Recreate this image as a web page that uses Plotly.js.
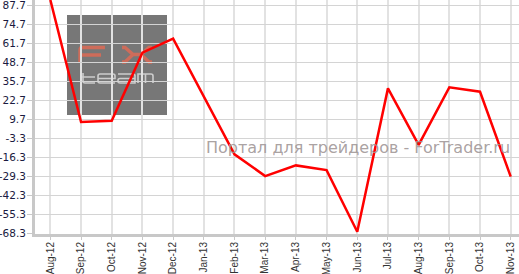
<!DOCTYPE html>
<html>
<head>
<meta charset="utf-8">
<script src="https://cdn.plot.ly/plotly-3.0.1.min.js"></script>
<style>html,body{margin:0;padding:0;background:#fff;}#chart{width:519px;height:274px;}</style>
</head>
<body>
<div id="chart"></div>
<script>
const months = ["Aug-12","Sep-12","Oct-12","Nov-12","Dec-12","Jan-13","Feb-13","Mar-13","Apr-13","May-13","Jun-13","Jul-13","Aug-13","Sep-13","Oct-13","Nov-13"];
const values = [91.5, 8.0, 8.9, 55.4, 65.0, 25.5, -14.1, -29.0, -21.7, -24.9, -67.1, 31.0, -7.7, 31.7, 28.7, -29.4];
const yTicks = [87.7, 74.7, 61.7, 48.7, 35.7, 22.7, 9.7, -3.3, -16.3, -29.3, -42.3, -55.3, -68.3];
const yTickLabels = ["87.7","74.7","61.7","48.7","35.7","22.7","9.7","-3.3","-16.3","-29.3","-42.3","-55.3","-68.3"];
const watermark = "Портал для трейдеров - ForTrader.ru";

// layout geometry (pixels)
const W = 519, H = 274, L = 35, R = 0, T = 0, B = 40;
const PW = W - L - R, PH = H - T - B;
function P(x, y) { return ((x - L) / PW).toFixed(4) + "," + (1 - (y - T) / PH).toFixed(4); }

const salmon = "rgb(206,108,90)";
const light = "rgb(205,205,205)";
const shapes = [
  {type: "rect", xref: "paper", yref: "paper", layer: "below",
   x0: (67 - L) / PW, x1: (167 - L) / PW, y0: 1 - (115 - T) / PH, y1: 1 - (15 - T) / PH,
   fillcolor: "#777777", line: {width: 0}},
  // F
  {type: "path", xref: "paper", yref: "paper", layer: "below", line: {color: salmon, width: 3.5},
   path: "M" + P(80, 63) + " L" + P(80, 50) + " Q" + P(80, 47.5) + " " + P(82.5, 47.5) + " L" + P(105, 47.5) +
         " M" + P(80, 55) + " L" + P(101, 55)},
  // X
  {type: "path", xref: "paper", yref: "paper", layer: "below", line: {color: salmon, width: 3.5},
   path: "M" + P(122, 47.5) + " L" + P(125, 47.5) + " L" + P(133, 54.5) + " L" + P(125, 62) + " L" + P(122, 62) +
         " M" + P(152, 47.5) + " L" + P(149, 47.5) + " L" + P(141, 54.5) + " L" + P(149, 62) + " L" + P(152, 62) +
         " M" + P(133, 54.5) + " L" + P(141, 54.5)},
  // t
  {type: "path", xref: "paper", yref: "paper", layer: "below", line: {color: light, width: 1.6},
   path: "M" + P(80, 77) + " L" + P(95, 77) + " M" + P(83, 73) + " L" + P(83, 81) + " Q" + P(83, 83) + " " + P(85, 83) + " L" + P(95, 83)},
  // e
  {type: "path", xref: "paper", yref: "paper", layer: "below", line: {color: light, width: 1.6},
   path: "M" + P(98, 78.5) + " L" + P(115, 78.5) + " L" + P(115, 76) + " Q" + P(115, 74) + " " + P(113, 74) + " L" + P(100, 74) +
         " Q" + P(98, 74) + " " + P(98, 76) + " L" + P(98, 81) + " Q" + P(98, 83) + " " + P(100, 83) + " L" + P(115, 83)},
  // a
  {type: "path", xref: "paper", yref: "paper", layer: "below", line: {color: light, width: 1.6},
   path: "M" + P(118, 74) + " L" + P(133, 74) + " Q" + P(135, 74) + " " + P(135, 76) + " L" + P(135, 83) + " L" + P(120, 83) +
         " Q" + P(118, 83) + " " + P(118, 81) + " L" + P(118, 80.5) + " Q" + P(118, 78.5) + " " + P(120, 78.5) + " L" + P(135, 78.5)},
  // m
  {type: "path", xref: "paper", yref: "paper", layer: "below", line: {color: light, width: 1.6},
   path: "M" + P(138, 83) + " L" + P(138, 74) + " L" + P(151, 74) + " Q" + P(153, 74) + " " + P(153, 76) + " L" + P(153, 83) +
         " M" + P(145.5, 74) + " L" + P(145.5, 83)}
];

const trace = {
  x: months.map((m, i) => i),
  y: values,
  type: "scatter",
  mode: "lines",
  line: {color: "#ff0000", width: 2.5},
  hoverinfo: "skip"
};

const layout = {
  width: W, height: H,
  margin: {l: L, r: R, t: T, b: B, pad: 0},
  paper_bgcolor: "#ffffff",
  plot_bgcolor: "#ffffff",
  showlegend: false,
  xaxis: {
    range: [-0.5, 15.27],
    tickvals: months.map((m, i) => i),
    ticktext: months,
    tickangle: -90,
    ticklabeloverflow: "allow",
    ticklabelstandoff: -2,
    tickfont: {family: "Liberation Sans, Arial, sans-serif", size: 10, color: "#333333"},
    showgrid: true, gridcolor: "#e2e2e2", gridwidth: 2,
    showline: true, linecolor: "#c8c8c8", linewidth: 3,
    ticks: "outside", ticklen: 3, tickcolor: "#c8c8c8", tickwidth: 1,
    zeroline: false, fixedrange: true
  },
  yaxis: {
    range: [-68.64, 91.46],
    tickvals: yTicks,
    ticktext: yTickLabels,
    ticklabeloverflow: "allow",
    ticklabelstandoff: -1,
    tickfont: {family: "DejaVu Sans, sans-serif", size: 10.5, color: "#1a1a40"},
    showgrid: true, gridcolor: "#d4d4d4", gridwidth: 1,
    showline: true, linecolor: "#c8c8c8", linewidth: 3,
    ticks: "outside", ticklen: 5, tickcolor: "#c8c8c8", tickwidth: 1,
    zeroline: false, fixedrange: true
  },
  shapes: shapes,
  annotations: [{
    text: watermark, xref: "paper", yref: "paper",
    x: (357.5 - L) / PW, y: 1 - (147.5 - T) / PH,
    xanchor: "center", yanchor: "middle", showarrow: false,
    font: {family: "DejaVu Sans, sans-serif", size: 16, color: "rgba(160,150,150,0.9)"}
  }]
};

Plotly.newPlot("chart", [trace], layout, {displayModeBar: false, staticPlot: true});
</script>
</body>
</html>
